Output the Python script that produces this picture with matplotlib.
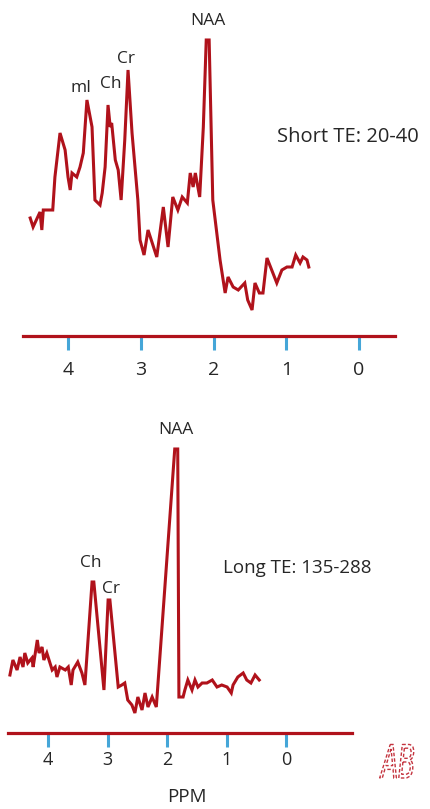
import matplotlib
matplotlib.use("Agg")
import matplotlib.pyplot as plt
from matplotlib.textpath import TextPath
from matplotlib.patches import PathPatch
from matplotlib.font_manager import FontProperties
from matplotlib.transforms import Affine2D

plt.rcParams["font.family"] = ["Open Sans", "DejaVu Sans"]

# ── Data ──────────────────────────────────────────────────────────────────────
TICKS = [4, 3, 2, 1, 0]

short_ppm = [4.52, 4.48, 4.385, 4.36, 4.34, 4.21, 4.18, 4.11, 4.04, 4.00,
             3.97, 3.945, 3.88, 3.835, 3.79, 3.74, 3.67, 3.63, 3.56, 3.53,
             3.49, 3.45, 3.42, 3.40, 3.35, 3.31, 3.27, 3.22, 3.175, 3.12,
             3.04, 3.01, 2.955, 2.90, 2.78, 2.69, 2.625, 2.56, 2.49, 2.43,
             2.36, 2.32, 2.28, 2.25, 2.19, 2.14, 2.10, 2.06, 2.01, 1.91,
             1.84, 1.80, 1.73, 1.66, 1.57, 1.53, 1.47, 1.43, 1.37, 1.32,
             1.265, 1.20, 1.13, 1.06, 0.99, 0.92, 0.87, 0.81, 0.77, 0.715,
             0.69]
short_int = [11.8, 10.9, 12.4, 10.6, 12.6, 12.6, 15.9, 20.3, 18.6, 15.9,
             14.6, 16.3, 15.9, 16.9, 18.3, 23.6, 20.9, 13.6, 13.1, 14.3,
             16.9, 23.1, 20.9, 21.3, 17.6, 16.6, 13.6, 19.6, 26.6, 20.3,
             13.6, 9.6, 8.1, 10.6, 7.9, 12.9, 8.9, 13.9, 12.6, 13.9,
             13.3, 16.3, 14.9, 16.3, 13.9, 20.9, 29.6, 29.6, 13.6, 7.6,
             4.3, 5.9, 4.9, 4.6, 5.3, 3.6, 2.6, 5.3, 4.3, 4.3,
             7.8, 6.6, 5.3, 6.6, 6.9, 6.9, 8.1, 7.3, 7.9, 7.6,
             6.9]
short_peaks = {"mI": (3.74, 23.6), "Ch": (3.45, 23.1), "Cr": (3.175, 26.6), "NAA": (2.08, 29.6)}

long_ppm = [4.64, 4.59, 4.52, 4.47, 4.42, 4.39, 4.34, 4.27, 4.25, 4.18,
            4.15, 4.10, 4.07, 4.02, 3.93, 3.88, 3.85, 3.80, 3.71, 3.66,
            3.61, 3.58, 3.50, 3.43, 3.38, 3.26, 3.23, 3.06, 2.99, 2.96,
            2.82, 2.76, 2.71, 2.66, 2.59, 2.54, 2.49, 2.42, 2.37, 2.32,
            2.25, 2.18, 1.87, 1.82, 1.80, 1.73, 1.70, 1.65, 1.58, 1.53,
            1.48, 1.41, 1.33, 1.24, 1.16, 1.08, 0.99, 0.92, 0.89, 0.81,
            0.72, 0.66, 0.59, 0.52, 0.45]
long_int = [5.8, 7.3, 6.3, 7.6, 6.6, 8.0, 7.0, 7.5, 6.6, 9.3,
            8.0, 8.6, 7.3, 8.0, 6.3, 6.6, 5.6, 6.6, 6.3, 6.6,
            4.8, 6.3, 7.1, 6.0, 4.8, 15.1, 15.1, 4.3, 13.3, 13.3,
            4.6, 4.8, 5.0, 3.3, 2.8, 2.0, 3.6, 2.3, 4.0, 2.6,
            3.6, 2.6, 28.4, 28.4, 3.6, 3.6, 4.3, 5.3, 4.3, 5.3,
            4.6, 5.0, 5.0, 5.3, 4.6, 4.8, 4.6, 4.0, 4.8, 5.6,
            6.0, 5.3, 5.0, 5.8, 5.3]
long_peaks = {"Ch": (3.245, 15.1), "Cr": (2.975, 13.3), "NAA": (1.845, 28.4)}

# ── Style ─────────────────────────────────────────────────────────────────────
RED  = "#b0121b"
BLUE = "#45a6d8"
TEXT = "#262626"
W, H = 430, 809
PEAK_FS = 12.5


def _panel(rect, xlim, ylim, spine_bounds, pad, labelsize):
    ax = fig.add_axes(rect)
    ax.set_xlim(*xlim)
    ax.set_ylim(*ylim)
    ax.patch.set_alpha(0)
    for s in ("top", "left", "right"):
        ax.spines[s].set_visible(False)
    sp = ax.spines["bottom"]
    sp.set_position(("data", 0))
    sp.set_bounds(*spine_bounds)
    sp.set_color(RED)
    sp.set_linewidth(2.3)
    ax.yaxis.set_visible(False)
    ax.set_xticks(TICKS)
    ax.set_xticklabels([str(t) for t in TICKS])
    ax.tick_params(axis="x", direction="out", length=10, width=2.2,
                   color=BLUE, labelsize=labelsize, labelcolor=TEXT, pad=pad)
    return ax


fig = plt.figure(figsize=(W / 100, H / 100), dpi=100, facecolor="white")

# ── Short TE panel ────────────────────────────────────────────────────────────
ax1 = _panel([0, (H - 400) / H, 1, 400 / H], (4.935, -0.976), (-6.4, 33.6),
             (4.62, -0.495), 8, 14)
ax1.plot(short_ppm, short_int, color=RED, lw=2.2, solid_joinstyle="miter")
offsets = {"mI": (-4, 9), "Ch": (2, 15), "Cr": (-1.5, 8), "NAA": (0, 14)}
for name, (px, py) in short_peaks.items():
    ax1.annotate(name, (px, py), xytext=offsets[name], textcoords="offset points",
                 ha="center", va="center", fontsize=PEAK_FS, color=TEXT)
ax1.text(1.127, 19.9, "Short TE: 20-40", ha="left", va="center",
         fontsize=14.5, color=TEXT)

# ── Long TE panel ─────────────────────────────────────────────────────────────
ax2 = _panel([0, 0, 1, 409 / H], (4.807, -2.420), (-7.6, 33.3),
             (4.67, -1.11), 3, 13)
ax2.plot(long_ppm, long_int, color=RED, lw=2.2, solid_joinstyle="miter")
offsets = {"Ch": (-1.5, 14), "Cr": (1.5, 8), "NAA": (0, 14)}
for name, (px, py) in long_peaks.items():
    ax2.annotate(name, (px, py), xytext=offsets[name], textcoords="offset points",
                 ha="center", va="center", fontsize=PEAK_FS, color=TEXT)
ax2.text(1.06, 16.5, "Long TE: 135-288", ha="left", va="center",
         fontsize=13.5, color=TEXT)

fig.text(187 / W, 1 - 797 / H, "PPM", ha="center", va="center",
         fontsize=13.5, color=TEXT)

# ── Hand-drawn initials, bottom right ─────────────────────────────────────────
tp = TextPath((0, 0), "AB", size=1,
              prop=FontProperties(family="DejaVu Sans", style="italic"))
sig = PathPatch(tp, facecolor="none", edgecolor="#c4343f", lw=1.0,
                linestyle=(0, (2.5, 1.5)),
                transform=Affine2D().scale(25, 46).translate(381, H - 778))
fig.add_artist(sig)

fig.savefig("out.png", dpi=100, facecolor="white")
